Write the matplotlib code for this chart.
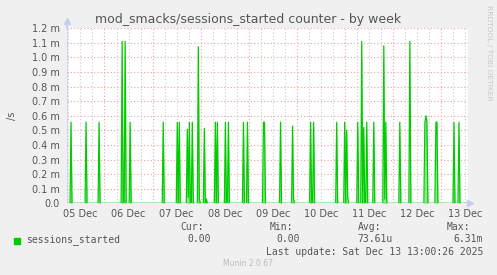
import numpy as np
import matplotlib.pyplot as plt

# hours since 05 Dec 00:00, plot window ends at last update (13 Dec ~13:00)
t_start = 5.3
t_end = 205.3

# spikes: (hour, value in /s)
spike_hours = [7.5, 15.0, 21.5, 33.0, 34.5, 37.0, 53.5, 60.5, 61.5, 65.5,
               66.0, 66.5, 68.0, 71.0, 71.5, 74.0, 75.0, 79.5, 80.5, 84.5,
               86.0, 93.5, 95.5, 103.5, 104.0, 112.0, 118.0, 118.5, 127.0,
               128.5, 140.0, 144.0, 145.0, 145.5, 150.5, 152.5, 153.5, 155.0,
               158.5, 163.5, 164.0, 164.5, 171.5, 176.5, 184.0, 184.5, 185.0,
               189.5, 190.0, 198.5, 201.0]
spike_values = [0.556e-3, 0.556e-3, 0.556e-3, 1.11e-3, 1.11e-3, 0.556e-3,
                0.556e-3, 0.556e-3, 0.556e-3, 0.507e-3, 0.04e-3, 0.556e-3,
                0.556e-3, 1.074e-3, 0.03e-3, 0.514e-3, 0.03e-3, 0.556e-3,
                0.556e-3, 0.556e-3, 0.556e-3, 0.556e-3, 0.556e-3, 0.556e-3,
                0.556e-3, 0.556e-3, 0.53e-3, 0.03e-3, 0.556e-3, 0.556e-3,
                0.556e-3, 0.556e-3, 0.50e-3, 0.04e-3, 0.556e-3, 1.11e-3,
                0.52e-3, 0.556e-3, 0.556e-3, 1.08e-3, 0.03e-3, 0.556e-3,
                0.556e-3, 1.11e-3, 0.556e-3, 0.60e-3, 0.56e-3, 0.556e-3,
                0.556e-3, 0.556e-3, 0.556e-3]

y_ticks = [i * 0.1e-3 for i in range(13)]
y_labels = ["0.0"] + ["%.1f m" % (i * 0.1) for i in range(1, 13)]
day_labels = ["05 Dec", "06 Dec", "07 Dec", "08 Dec", "09 Dec",
              "10 Dec", "11 Dec", "12 Dec", "13 Dec"]
day_noons = [12 + 24 * i for i in range(len(day_labels))]

legend_name = "sessions_started"
cur_val, min_val, avg_val, max_val = "0.00", "0.00", "73.61u", "6.31m"

# 30 min samples
t = np.arange(t_start, t_end + 0.01, 0.5)
v = np.zeros_like(t)
for h, val in zip(spike_hours, spike_values):
    v[np.argmin(np.abs(t - h))] = val

W, H = 497, 275
txt = "#555555"
green = "#00cc00"

fig = plt.figure(figsize=(W / 100, H / 100), dpi=100, facecolor="#f0f0f0")
ax = fig.add_axes([67 / W, 1 - 203.3 / H, 401 / W, 175 / H])
ax.set_facecolor("white")

# grid
for h in np.arange(6, 210, 6):
    if t_start < h < t_end:
        if h % 24 == 0:
            ax.axvline(h, color="#f0a0a0", lw=0.8, ls=(0, (1, 2)), zorder=1)
        else:
            ax.axvline(h, color="#cccccc", lw=0.8, ls=(0, (1, 2)), zorder=1)
for y in y_ticks[1:]:
    ax.axhline(y, color="#f0a0a0", lw=0.8, ls=(0, (1, 2)), zorder=1)

ax.fill_between(t, v, color=green, alpha=0.45, lw=0, zorder=2)
ax.plot(t, v, color=green, lw=0.9, zorder=3)

ax.set_xlim(t_start, t_end)
ax.set_ylim(0, 1.2e-3)
for s in ax.spines.values():
    s.set_visible(False)
ax.axvline(t_start, color="#c8ccf0", lw=1.2, zorder=4)
ax.plot([t_start, t_start], [1.2e-3, 1.24e-3], color="#c8ccf0", lw=1.2,
        clip_on=False, zorder=4)
ax.plot([t_start], [1.25e-3], marker="^", color="#c8ccf0", ms=4,
        clip_on=False, zorder=5)
ax.plot([t_end + 0.8], [0], marker=">", color="#c8ccf0", ms=4,
        clip_on=False, zorder=5)

ax.set_yticks(y_ticks)
ax.set_yticklabels(y_labels)
ax.set_xticks(day_noons)
ax.set_xticklabels(day_labels)
ax.tick_params(axis="both", length=0, labelsize=7, colors=txt)
ax.tick_params(axis="y", pad=5)
ax.tick_params(axis="x", pad=4)

fig.text(248 / W, 1 - 20 / H, "mod_smacks/sessions_started counter - by week",
         ha="center", va="center", fontsize=9, color=txt)
fig.text(12.5 / W, 1 - 116 / H, "/s", rotation=90, ha="center", va="center",
         fontsize=7, color=txt)
fig.text(489 / W, 1 - 5 / H, "RRDTOOL / TOBI OETIKER", rotation=270,
         ha="center", va="top", fontsize=5.4, color="#c8c8c8")

mono = "DejaVu Sans Mono"
fig.patches.append(plt.Rectangle((14 / W, 1 - 243.5 / H), 6 / W, 6 / H,
                                 transform=fig.transFigure, color=green))
row1, row2, row3 = 1 - 227.3 / H, 1 - 239.3 / H, 1 - 251.7 / H
fig.text(26.5 / W, row2, legend_name, family=mono, fontsize=7, color=txt, va="center")
for hx, head in [(204, "Cur:"), (293, "Min:"), (381, "Avg:"), (470, "Max:")]:
    fig.text(hx / W, row1, head, family=mono, fontsize=7, color=txt,
             ha="right", va="center")
for vx, val in [(210.7, cur_val), (300, min_val), (393, avg_val), (483, max_val)]:
    fig.text(vx / W, row2, val, family=mono, fontsize=7, color=txt,
             ha="right", va="center")
fig.text(483 / W, row3, "Last update: Sat Dec 13 13:00:26 2025", family=mono,
         fontsize=7, color=txt, ha="right", va="center")
fig.text(248 / W, 1 - 263.3 / H, "Munin 2.0.67", fontsize=5.5, color="#bbbbbb",
         ha="center", va="center")

fig.savefig("out.png", dpi=100, facecolor=fig.get_facecolor())
